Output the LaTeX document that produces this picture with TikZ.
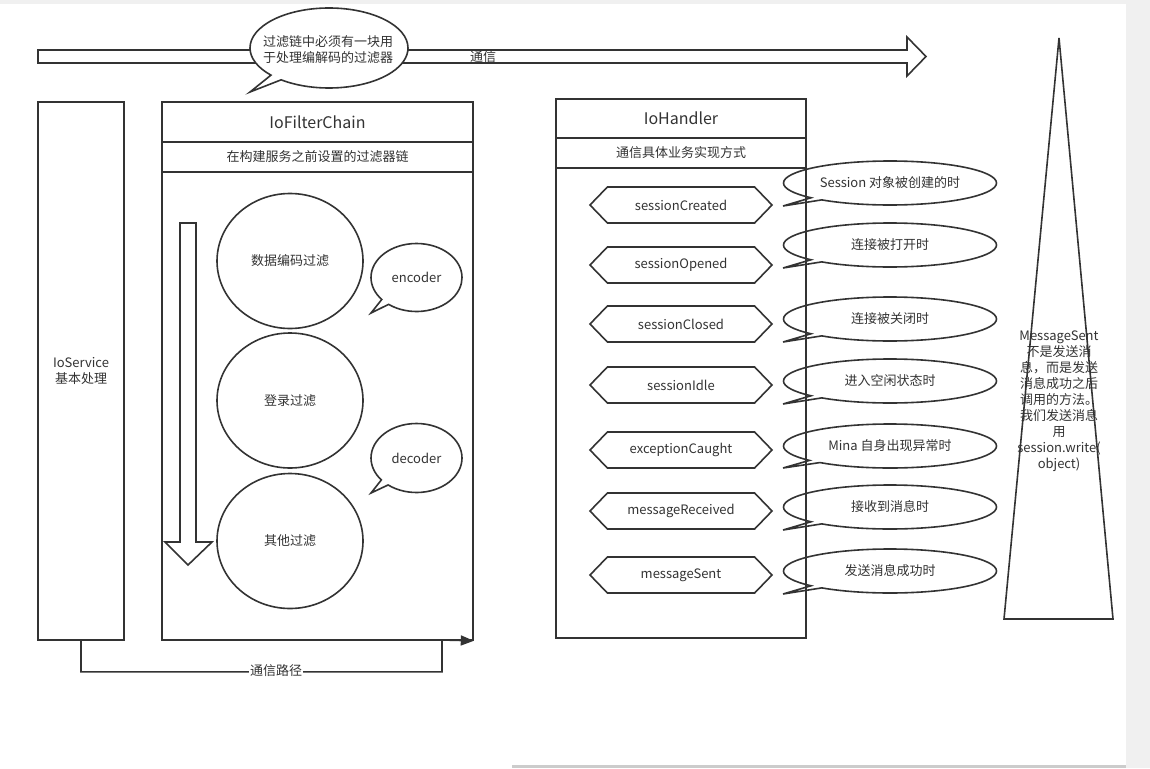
\documentclass[tikz,border=0pt]{standalone}
\usepackage{fontspec}
\setmainfont{Noto Sans CJK SC}
\usetikzlibrary{shapes.geometric,shapes.symbols,shapes.callouts,arrows.meta}
\definecolor{ink}{HTML}{333333}

\begin{document}
\begin{tikzpicture}[x=1pt,y=-1pt,color=ink,line width=1.6pt,
  every node/.style={font=\fontsize{13}{16}\selectfont,inner sep=0pt},
  box/.style={draw,rectangle},
  big/.style={font=\fontsize{16}{19}\selectfont},
  filt/.style={draw,ellipse,minimum width=146,minimum height=135},
  hexa/.style={draw,signal,signal to=west and east,signal pointer angle=92,
    minimum width=182,minimum height=36},
  note/.style={draw,ellipse callout,callout pointer arc=8,
    minimum width=213,minimum height=44}]

% page
\useasboundingbox (0,0) rectangle (1150,768);
\fill[white] (0,0) rectangle (1150,768);
\fill[black!6] (0,0) rectangle (1150,4);
\fill[black!6] (1126,0) rectangle (1150,768);
\fill[black!20] (512,765) rectangle (1126,768);

% communication arrow
\draw (38,50) -- (907,50) -- (907,37) -- (926,56.5) -- (907,76) -- (907,63) -- (38,63) -- cycle;
\node at (483,57) (comm) {通信};

\node[draw,ellipse callout,callout pointer arc=10,minimum width=158,minimum height=80,
  fill=white,callout absolute pointer={(250,92)}] at (329,48) (tip) {};
\node[align=center] at (328,50) (tiptext) {过滤链中必须有一块用\\于处理编解码的过滤器};

% IoService
\node[box,minimum width=86,minimum height=538,align=center] at (81,371) (service)
  {IoService\\基本处理};

% IoFilterChain
\node[box,minimum width=311,minimum height=538] at (317.5,371) (chain) {};
\node[box,big,minimum width=311,minimum height=40] at (317.5,122) (chaintitle) {IoFilterChain};
\node[box,minimum width=311,minimum height=30] at (317.5,157) (chainsub) {在构建服务之前设置的过滤器链};

\draw (180,223) -- (196,223) -- (196,542) -- (212,542) -- (188,565) -- (165,542) -- (180,542) -- cycle;

\node[filt] at (290,261) (encode) {数据编码过滤};
\node[filt] at (290,400.5) (login) {登录过滤};
\node[filt] at (290,541) (other) {其他过滤};

\node[draw,ellipse callout,callout pointer arc=12,minimum width=91,minimum height=68,
  callout absolute pointer={(371,313)}] at (416.5,277.5) (encoder) {encoder};
\node[draw,ellipse callout,callout pointer arc=12,minimum width=91,minimum height=69,
  callout absolute pointer={(371,493)}] at (416.5,458) (decoder) {decoder};

% path
\coordinate (turn) at (442,640);
\draw[-{Triangle[length=13pt,width=10pt]}] (service.south) -- ++(0,31) -| (turn) -- (chain.south east);
\node[fill=white,inner sep=1pt] at (276,671) (pathlbl) {通信路径};

% IoHandler
\node[box,minimum width=250,minimum height=539] at (681,368.5) (handler) {};
\node[box,big,minimum width=250,minimum height=39] at (681,118.5) (handlertitle) {IoHandler};
\node[box,minimum width=250,minimum height=30] at (681,153) (handlersub) {通信具体业务实现方式};

\node[hexa] at (681,205) (created) {sessionCreated};
\node[hexa] at (681,265) (opened) {sessionOpened};
\node[hexa] at (681,324) (closed) {sessionClosed};
\node[hexa] at (681,385) (idle) {sessionIdle};
\node[hexa] at (681,450) (caught) {exceptionCaught};
\node[hexa] at (681,511) (received) {messageReceived};
\node[hexa] at (681,575) (sent) {messageSent};

\node[note,callout absolute pointer={(783,206)}] at (890,183) (ncreated) {Session 对象被创建的时};
\node[note,callout absolute pointer={(783,268)}] at (890,245) (nopened) {连接被打开时};
\node[note,callout absolute pointer={(783,342)}] at (890,319) (nclosed) {连接被关闭时};
\node[note,callout absolute pointer={(783,404)}] at (890,381) (nidle) {进入空闲状态时};
\node[note,callout absolute pointer={(783,468)}] at (890,446) (ncaught) {Mina 自身出现异常时};
\node[note,callout absolute pointer={(783,530)}] at (890,507) (nreceived) {接收到消息时};
\node[note,callout absolute pointer={(783,594)}] at (890,571) (nsent) {发送消息成功时};

% MessageSent
\draw (1059,38) -- (1113,619) -- (1004,619) -- cycle;
\node[align=center] at (1059,401.5) (sentinfo) {MessageSent\\不是发送消\\息，而是发送\\消息成功之后\\调用的方法。\\我们发送消息\\用\\session.write(\\object)};

\end{tikzpicture}
\end{document}
